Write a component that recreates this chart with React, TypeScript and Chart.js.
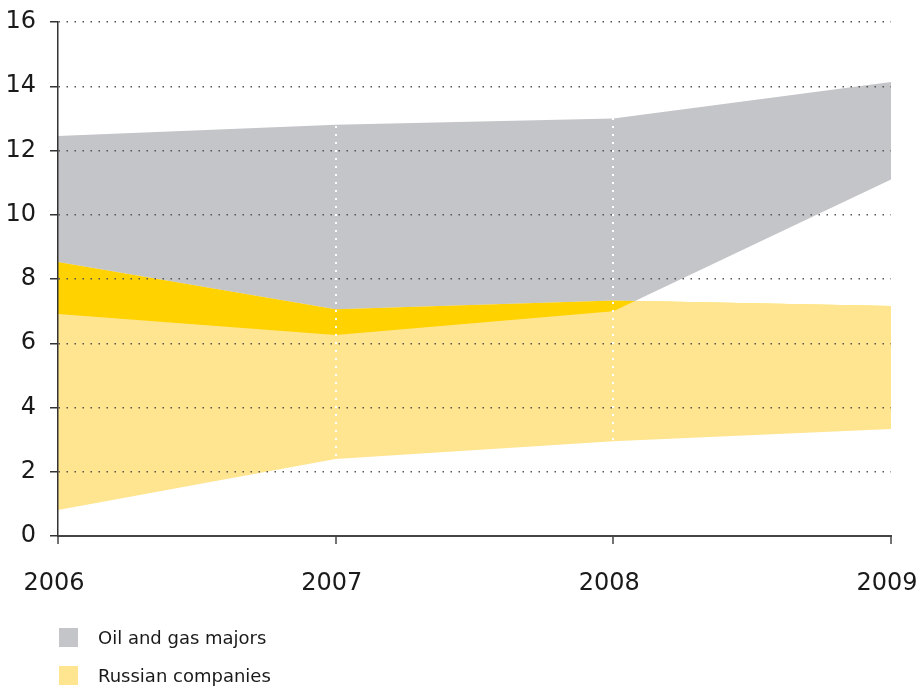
import React, { useEffect, useRef } from "react";
import { Chart, registerables } from "chart.js";

Chart.register(...registerables);

// Years on the horizontal axis
const years = ["2006", "2007", "2008", "2009"];

// Oil and gas majors: range band (upper and lower bounds)
const majorsHigh = [12.45, 12.8, 13.0, 14.13];
const majorsLow = [6.91, 6.26, 7.0, 11.1];

// Russian companies: range band (upper and lower bounds)
const russianHigh = [8.53, 7.06, 7.33, 7.16];
const russianLow = [0.81, 2.4, 2.95, 3.33];

// Value axis
const yMin = 0;
const yMax = 16;
const yStep = 2;

// Legend entries
const legendLabels = ["Oil and gas majors", "Russian companies"];

const GREY = "#C4C5C9";
const LIGHT_YELLOW = "#FFE590";
const GOLD = "#FFD200";
const AXIS = "#333333";
const TEXT = "#1a1a1a";
const FONT = "'DejaVu Sans', sans-serif";

export default function App() {
  const canvasRef = useRef<HTMLCanvasElement | null>(null);

  useEffect(() => {
    const canvas = canvasRef.current;
    if (!canvas) return;

    const chart = new Chart(canvas, {
      type: "line",
      data: {
        labels: years,
        datasets: [
          {
            label: legendLabels[0],
            data: majorsHigh,
            fill: 1,
            backgroundColor: GREY,
            borderWidth: 0,
            pointRadius: 0,
            order: 3,
          },
          {
            label: legendLabels[0] + " low",
            data: majorsLow,
            fill: false,
            borderWidth: 0,
            pointRadius: 0,
            order: 3,
          },
          {
            label: legendLabels[1],
            data: russianHigh,
            fill: 3,
            backgroundColor: LIGHT_YELLOW,
            borderWidth: 0,
            pointRadius: 0,
            order: 2,
          },
          {
            label: legendLabels[1] + " low",
            data: russianLow,
            fill: false,
            borderWidth: 0,
            pointRadius: 0,
            order: 2,
          },
          {
            // where the two ranges overlap: majors' floor below the Russian ceiling
            label: "overlap",
            data: majorsLow,
            fill: { target: 2, above: "rgba(0,0,0,0)", below: GOLD },
            borderWidth: 0,
            pointRadius: 0,
            order: 1,
          },
        ],
      },
      options: {
        animation: false,
        responsive: false,
        devicePixelRatio: 1,
        layout: { padding: { left: 0, right: 26, top: 22, bottom: 0 } },
        plugins: {
          legend: { display: false },
          tooltip: { enabled: false },
        },
        elements: { line: { tension: 0 } },
        scales: {
          x: {
            type: "category",
            offset: false,
            grid: {
              z: 1,
              color: (ctx: any) =>
                ctx.index === 1 || ctx.index === 2 ? "#ffffff" : "rgba(0,0,0,0)",
              lineWidth: 2,
              tickLength: 8,
              tickColor: "#444444",
              tickWidth: 1.5,
            },
            border: { z: 2, color: "#444444", width: 2, dash: [2, 6] },
            ticks: {
              padding: 25,
              labelOffset: -4,
              color: TEXT,
              font: { family: FONT, size: 24 },
              maxRotation: 0,
              autoSkip: false,
            },
            afterFit: (s: any) => {
              s.height = 150;
              s.paddingLeft = 0;
              s.paddingRight = 0;
            },
          },
          y: {
            min: yMin,
            max: yMax,
            grid: {
              z: 1,
              color: "#555555",
              lineWidth: 1.5,
              tickLength: 8,
              tickColor: AXIS,
              tickWidth: 1.5,
            },
            border: { z: 2, color: AXIS, width: 1.5, dash: [1.5, 6.5] },
            ticks: {
              stepSize: yStep,
              padding: 14,
              color: TEXT,
              font: { family: FONT, size: 24 },
            },
            afterFit: (s: any) => {
              s.width = 58;
              s.paddingTop = 0;
              s.paddingBottom = 0;
            },
          },
        },
      },
    });

    return () => chart.destroy();
  }, []);

  const swatches = [GREY, LIGHT_YELLOW];

  return (
    <div
      style={{
        position: "fixed",
        left: 0,
        top: 0,
        width: 917,
        height: 686,
        background: "#ffffff",
        overflow: "hidden",
      }}
    >
      <canvas ref={canvasRef} width={917} height={686} style={{ display: "block" }} />
      {legendLabels.map((label, i) => (
        <div
          key={label}
          style={{
            position: "absolute",
            left: 59,
            top: 628 + i * 38,
            height: 19,
            display: "flex",
            alignItems: "center",
            fontFamily: FONT,
            fontSize: 18,
            color: TEXT,
            whiteSpace: "nowrap",
          }}
        >
          <span
            style={{
              display: "inline-block",
              width: 19,
              height: 19,
              background: swatches[i],
              marginRight: 20,
            }}
          />
          <span>{label}</span>
        </div>
      ))}
    </div>
  );
}
